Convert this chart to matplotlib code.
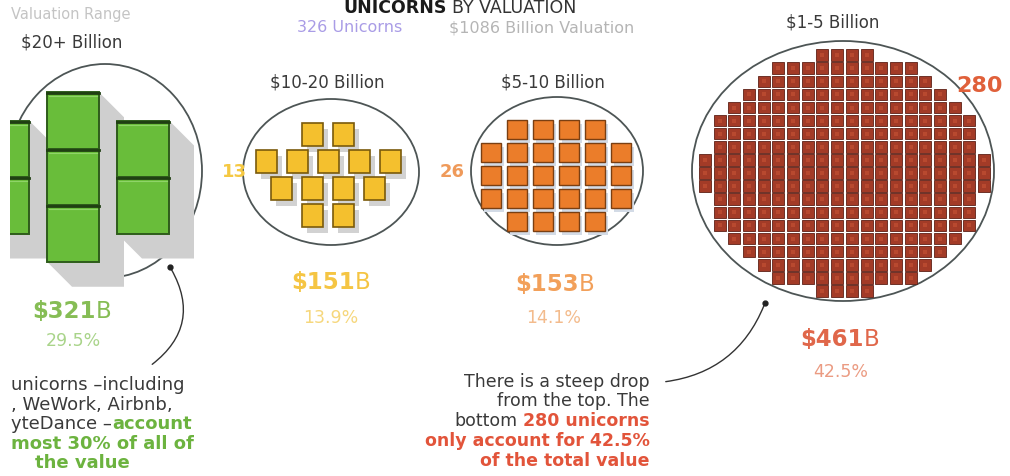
import matplotlib
matplotlib.use("Agg")
import matplotlib.pyplot as plt
from matplotlib.patches import Ellipse, Rectangle, Polygon, FancyArrowPatch

# ---------------- data ----------------
categories = ["$20+ Billion", "$10-20 Billion", "$5-10 Billion", "$1-5 Billion"]
unicorn_counts = [7, 13, 26, 280]
valuations_b = [321, 151, 153, 461]
share_labels = ["29.5%", "13.9%", "14.1%", "42.5%"]
total_unicorns = 326
total_valuation_b = 1086
title_bold = "UNICORNS"
title_rest = "BY VALUATION"
range_header = "Valuation Range"

# ---------------- style / layout ----------------
plt.rcParams['font.family'] = ['DejaVu Sans']
W, H = 1010, 477
fig = plt.figure(figsize=(W / 100, H / 100), dpi=100)
ax = fig.add_axes([0, 0, 1, 1])
ax.set_xlim(0, W)
ax.set_ylim(H, 0)
ax.axis('off')
renderer = fig.canvas.get_renderer()

DARK = "#3a3a3a"
fills = ["#69bd3a", "#f4c02e", "#eb7d2a", "#a33b27"]
edges = ["#2e5c1b", "#7a5a0c", "#7a3f12", "#5e2016"]
value_cols = ["#86bd55", "#f5c543", "#f2a05a", "#e0674a"]
share_cols = ["#a9d48a", "#f6d77c", "#f3bb8c", "#eb9b82"]

group_cx = [105, 331, 557, 843]
group_cy = [172, 173, 172, 172]
ell_rx = [97, 88, 86, 151]
ell_ry = [107, 73, 74, 130]


def text_w(s, size, weight):
    t = ax.text(0, 0, s, fontsize=size, fontweight=weight)
    w = t.get_window_extent(renderer=renderer).width
    t.remove()
    return w


def rich(x, y, parts, size, ha='center', va='center', spaced=False):
    """parts: list of (string, color, weight); drawn side by side."""
    sp = text_w("a a", size, 'normal') - text_w("aa", size, 'normal') if spaced else 0
    widths = [text_w(s, size, w) for s, c, w in parts]
    total = sum(widths) + sp * (len(parts) - 1)
    start = {'left': x, 'center': x - total / 2, 'right': x - total}[ha]
    for (s, c, w), wd in zip(parts, widths):
        ax.text(start, y, s, color=c, fontweight=w, fontsize=size,
                ha='left', va=va)
        start += wd + sp


def cells(count, capacities):
    out = []
    remaining = count
    for li, cap in enumerate(capacities):
        n = min(cap, remaining)
        for k in range(n):
            out.append((li, k - (n - 1) / 2))
        remaining -= n
    return out


# ---------------- ellipses ----------------
for i in range(4):
    ax.add_patch(Ellipse((group_cx[i], group_cy[i]), 2 * ell_rx[i], 2 * ell_ry[i],
                         fill=False, edgecolor="#4d5555", lw=1.3, zorder=2))

# ---------------- group 1: $20+ (tall stacked boxes in columns) ----------------
g1_cols = [2, 3, 2]
pitch_x, bw, bh, d = 70, 52, 56.5, 25
L = len(g1_cols)
col_rng = {}
for li, k in cells(unicorn_counts[0], g1_cols):
    cx = 73 + (li - (L - 1) / 2) * pitch_x
    cy = 178 + k * bh
    lo, hi = col_rng.get(li, (1e9, -1e9))
    col_rng[li] = (min(lo, cy - bh / 2), max(hi, cy + bh / 2))
    ax.add_patch(Rectangle((cx - bw / 2, cy - bh / 2), bw, bh, facecolor=fills[0],
                           edgecolor=edges[0], lw=1.4, zorder=4))
    ax.plot([cx - bw / 2 + 2, cx + bw / 2 - 2], [cy - bh / 2 + 4, cy - bh / 2 + 4],
            color="#8fd468", lw=0.8, zorder=5)
    ax.plot([cx - bw / 2, cx + bw / 2], [cy - bh / 2 + 1, cy - bh / 2 + 1],
            color="#1f3f12", lw=2.0, zorder=5)
for li, (y0, y1) in col_rng.items():
    cx = 73 + (li - (L - 1) / 2) * pitch_x
    x0, x1 = cx - bw / 2, cx + bw / 2
    ax.add_patch(Polygon([(x1, y0), (x1 + d, y0 + d), (x1 + d, y1 + d),
                          (x0 + d, y1 + d), (x0, y1)], closed=True,
                         facecolor="#cfcfcf", edgecolor='none', zorder=3))

# ---------------- group 2: $10-20 (rows) ----------------
g2_rows = [2, 5, 4, 2]
for li, k in cells(unicorn_counts[1], g2_rows):
    cx = 328 + k * 31
    cy = 176 + (li - (len(g2_rows) - 1) / 2) * 26.7
    ax.add_patch(Rectangle((cx - 10.5 + 5, cy - 11.5 + 6), 21, 23, facecolor="#d2d2d2",
                           edgecolor='none', zorder=3))
    ax.add_patch(Rectangle((cx - 10.5, cy - 11.5), 21, 23, facecolor=fills[1],
                           edgecolor=edges[1], lw=1.2, zorder=4))

# ---------------- group 3: $5-10 (rows) ----------------
g3_rows = [4, 6, 6, 6, 4]
for li, k in cells(unicorn_counts[2], g3_rows):
    cx = 556 + k * 26
    cy = 176.5 + (li - (len(g3_rows) - 1) / 2) * 23
    ax.add_patch(Rectangle((cx - 10 + 3, cy - 9.25 + 4), 20, 18.5, facecolor="#d3dbe6",
                           edgecolor='none', zorder=3))
    ax.add_patch(Rectangle((cx - 10, cy - 9.25), 20, 18.5, facecolor=fills[2],
                           edgecolor=edges[2], lw=1.0, zorder=4))

# ---------------- group 4: $1-5 (columns) ----------------
g4_cols = [3, 9, 11, 13, 15, 17, 17, 17, 19, 19, 19, 19, 17, 17, 17, 15, 13, 11, 9, 3]
for li, k in cells(unicorn_counts[3], g4_cols):
    cx = 844.5 + (li - (len(g4_cols) - 1) / 2) * 14.7
    cy = 174 + k * 13.1
    ax.add_patch(Rectangle((cx - 6, cy - 5.8), 12, 11.6, facecolor=fills[3],
                           edgecolor=edges[3], lw=0.6, zorder=4))
    ax.add_patch(Rectangle((cx - 2, cy - 2), 4, 4, facecolor="#b8492f",
                           edgecolor='none', zorder=5))

# ---------------- count labels ----------------
ax.text(234, 172, str(unicorn_counts[1]), color="#f5c842", fontsize=13,
        fontweight='bold', ha='center', va='center', zorder=6)
ax.text(452, 172, str(unicorn_counts[2]), color="#ef9a5a", fontsize=13,
        fontweight='bold', ha='center', va='center', zorder=6)
ax.text(980, 86, str(unicorn_counts[3]), color="#e0603a", fontsize=16,
        fontweight='bold', ha='center', va='center', zorder=6)

# ---------------- category labels ----------------
cat_xy = [(72, 43), (327, 82), (553, 82), (833, 22)]
for (x, y), c in zip(cat_xy, categories):
    ax.text(x, y, c, color=DARK, fontsize=12, ha='center', va='center')

# ---------------- value + share labels ----------------
val_xy = [(72, 312), (331, 283), (555, 285), (840, 340)]
shr_xy = [(73, 341), (331, 318), (554, 318), (841, 372)]
for i in range(4):
    rich(val_xy[i][0], val_xy[i][1],
         [(f"${valuations_b[i]}", value_cols[i], 'bold'), ("B", value_cols[i], 'normal')],
         16.5)
    ax.text(shr_xy[i][0], shr_xy[i][1], share_labels[i], color=share_cols[i],
            fontsize=12.5, ha='center', va='center')

# ---------------- header ----------------
rich(460, 13, [(title_bold, "#1a1a1a", 'bold'), (title_rest, "#333333", 'normal')],
     12.5, ha='center', va='baseline', spaced=True)
ax.text(350, 28, f"{total_unicorns} Unicorns", color="#a99ce6", fontsize=11.5,
        ha='center', va='center')
ax.text(542, 28, f"${total_valuation_b} Billion Valuation", color="#b5b5b5",
        fontsize=11.5, ha='center', va='center')
ax.text(11, 14, range_header, color="#c4c4c4", fontsize=10.5, ha='left', va='center')

# ---------------- annotations ----------------
GREEN = "#6cb33f"
RED = "#e2543a"
# left note: only the part visible inside the cropped picture
left_lines = [
    (385, [("unicorns –including", DARK, 'normal')], 'left', 11),
    (405, [(", WeWork, Airbnb,", DARK, 'normal')], 'left', 11),
    (424, [("yteDance –", DARK, 'normal'), ("account", GREEN, 'bold')], 'left', 11),
    (444, [("most 30% of all of", GREEN, 'bold')], 'left', 11),
    (463, [("the value", GREEN, 'bold')], 'center', 82),
]
for y, parts, ha, x in left_lines:
    rich(x, y, parts, 13, ha=ha)

right_lines = [
    (382, [("There is a steep drop", DARK, 'normal')], False),
    (401.5, [("from the top. The", DARK, 'normal')], False),
    (421, [("bottom", DARK, 'normal'), ("280 unicorns", RED, 'bold')], True),
    (441, [("only account for 42.5%", RED, 'bold')], False),
    (461, [("of the total value", RED, 'bold')], False),
]
for y, parts, sp in right_lines:
    rich(650, y, parts, 12.5, ha='right', spaced=sp)

# curved leader lines
ax.add_patch(FancyArrowPatch((170, 268), (150, 367), connectionstyle="arc3,rad=-0.45",
                             arrowstyle='-', color="#333333", lw=1.0, zorder=6))
ax.plot([170], [268], 'o', color="#222222", ms=3.5, zorder=7)
ax.add_patch(FancyArrowPatch((663, 383), (765, 304), connectionstyle="arc3,rad=0.3",
                             arrowstyle='-', color="#333333", lw=1.0, zorder=6))
ax.plot([765], [304], 'o', color="#222222", ms=3.5, zorder=7)

# left crop margin of the original picture
ax.add_patch(Rectangle((0, 0), 10, H, facecolor='white', edgecolor='none', zorder=20))

fig.savefig("out.png", dpi=100, facecolor='white')
